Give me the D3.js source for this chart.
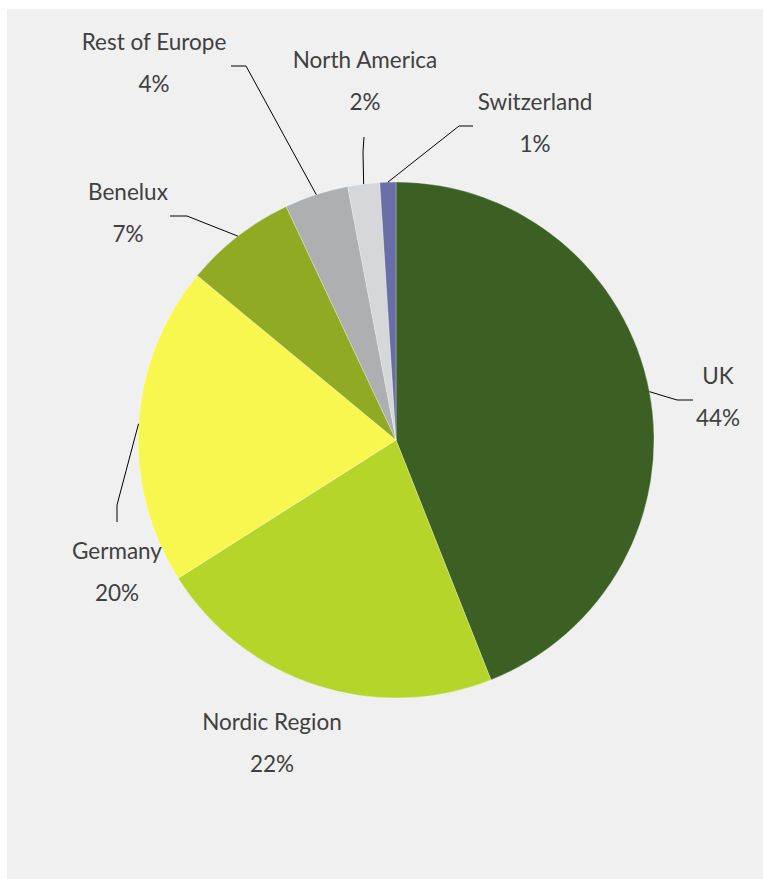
<!DOCTYPE html>
<html>
<head>
<meta charset="utf-8">
<script src="https://cdn.jsdelivr.net/npm/d3@7"></script>
<style>
  html, body { margin: 0; padding: 0; background: #ffffff; }
  svg { display: block; }
  text { font-family: Lato, "Open Sans", sans-serif; fill: #404040; }
</style>
</head>
<body>
<svg id="chart" width="763" height="879"></svg>
<script>
// Revenue split by region (percent of total)
const regions = ["UK", "Nordic Region", "Germany", "Benelux", "Rest of Europe", "North America", "Switzerland"];
const shares = [44, 22, 20, 7, 4, 2, 1];
const sliceColors = ["#3c5f24", "#b6d52b", "#f8f750", "#90aa24", "#aeafb1", "#d6d7d9", "#6a6ea6"];

// Label placement: text centre, name baseline, leader elbow and leader end
const labelLayout = [
  { x: 718, y: 384, elbow: [677, 400], end: [693, 400] },
  { x: 272, y: 730, elbow: null, end: null },
  { x: 117, y: 559, elbow: [117, 505], end: [117, 522] },
  { x: 128, y: 200, elbow: [187, 216], end: [170, 216] },
  { x: 154, y: 50, elbow: [246, 66], end: [231, 66] },
  { x: 365, y: 68, elbow: [363, 152], end: [364, 137] },
  { x: 535, y: 110, elbow: [459, 126], end: [473, 126] }
];

const W = 763, H = 879;
const cx = 396, cy = 440, radius = 258;
const fontSize = 22.5;

const svg = d3.select("#chart");

// panel background
svg.append("rect")
  .attr("x", 7).attr("y", 9)
  .attr("width", W - 7).attr("height", H - 9)
  .attr("fill", "#f0f0f0");

const data = regions.map((r, i) => ({ region: r, share: shares[i], color: sliceColors[i], layout: labelLayout[i] }));

const pie = d3.pie().sort(null).value(d => d.share);
const arcs = pie(data);
const arc = d3.arc().innerRadius(0).outerRadius(radius);

const g = svg.append("g").attr("transform", `translate(${cx},${cy})`);

g.selectAll("path.slice")
  .data(arcs)
  .join("path")
  .attr("class", "slice")
  .attr("d", arc)
  .attr("fill", d => d.data.color)
  .attr("stroke", "#ffffff")
  .attr("stroke-opacity", 0.35)
  .attr("stroke-width", 0.8);

// leader lines from the slice's mid-angle on the rim
const leaders = svg.append("g");
arcs.forEach(a => {
  const L = a.data.layout;
  if (!L.elbow) return;
  const mid = (a.startAngle + a.endAngle) / 2;
  const sx = cx + radius * Math.sin(mid);
  const sy = cy - radius * Math.cos(mid);
  leaders.append("polyline")
    .attr("points", [[sx, sy], L.elbow, L.end].map(p => p.join(",")).join(" "))
    .attr("fill", "none")
    .attr("stroke", "#000000")
    .attr("stroke-width", 1);
});

// labels: name and percent
const labels = svg.append("g");
arcs.forEach(a => {
  const L = a.data.layout;
  labels.append("text")
    .attr("x", L.x).attr("y", L.y)
    .attr("text-anchor", "middle")
    .attr("font-size", fontSize)
    .text(a.data.region);
  labels.append("text")
    .attr("x", L.x).attr("y", L.y + 42)
    .attr("text-anchor", "middle")
    .attr("font-size", fontSize)
    .text(a.data.share + "%");
});
</script>
</body>
</html>
